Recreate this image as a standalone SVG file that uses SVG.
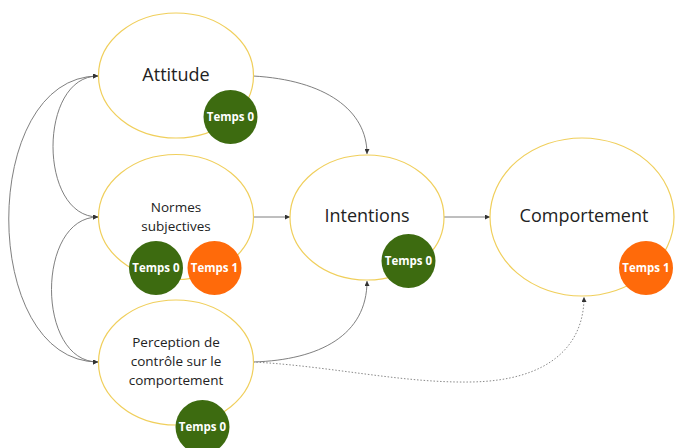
<svg xmlns="http://www.w3.org/2000/svg" width="675" height="448" viewBox="0 0 675 448">
  <style>
    .node { fill: #ffffff; stroke: #f0cf5c; stroke-width: 1.2; }
    .label { font-family: "Open Sans", "Liberation Sans", sans-serif; fill: #222222; text-anchor: middle; }
    .big { font-size: 18px; }
    .small { font-size: 13.5px; }
    .badge-text { font-family: "Open Sans", "Liberation Sans", sans-serif; font-weight: bold; font-size: 11.5px; fill: #ffffff; text-anchor: middle; }
    .t0 { fill: #3d6b10; }
    .t1 { fill: #ff6a0a; }
    .link { fill: none; stroke: #707070; stroke-width: 0.9; }
    .dotted { fill: none; stroke: #8a8a8a; stroke-width: 1; stroke-dasharray: 1.5 1.8; }
  </style>
  <defs>
    <marker id="arrow" viewBox="0 0 10 10" refX="10" refY="5" markerWidth="6" markerHeight="5" markerUnits="userSpaceOnUse" orient="auto-start-reverse">
      <path d="M0,0 L10,5 L0,10 z" fill="#333333"/>
    </marker>
  </defs>

  <rect width="675" height="448" fill="#ffffff"/>

  <!-- connectors -->
  <g id="connectors">
    <!-- mutual links on the left -->
    <path class="link" d="M98,76 C38,76 38,217 98,217" marker-start="url(#arrow)" marker-end="url(#arrow)"/>
    <path class="link" d="M98,217 C36,217 36,362 98,362" marker-start="url(#arrow)" marker-end="url(#arrow)"/>
    <path class="link" d="M98,76 C-21,76 -21,362 98,362" marker-start="url(#arrow)" marker-end="url(#arrow)"/>
    <!-- towards Intentions -->
    <path class="link" d="M253,76 C325,80 367,110 367,154" marker-end="url(#arrow)"/>
    <path class="link" d="M253,217 L290,217" marker-end="url(#arrow)"/>
    <path class="link" d="M253,362 C320,360 367,335 367,281" marker-end="url(#arrow)"/>
    <!-- towards Comportement -->
    <path class="link" d="M444,217 L490,217" marker-end="url(#arrow)"/>
    <path class="dotted" d="M253,362 C330,366 400,383 470,382 C550,381 584,345 584,297" marker-end="url(#arrow)"/>
  </g>

  <g id="attitude">
    <ellipse class="node" cx="176" cy="75.5" rx="77.5" ry="62.5"/>
    <text class="label big" x="176" y="81">Attitude</text>
    <circle class="t0" cx="230.5" cy="117" r="27"/>
    <text class="badge-text" x="230.5" y="121">Temps 0</text>
  </g>

  <g id="normes">
    <ellipse class="node" cx="176" cy="217" rx="77.5" ry="62.5"/>
    <text class="label small" x="176" y="212">Normes</text>
    <text class="label small" x="176" y="231">subjectives</text>
    <circle class="t0" cx="156" cy="268" r="27"/>
    <text class="badge-text" x="156" y="272">Temps 0</text>
    <circle class="t1" cx="214.5" cy="268" r="27"/>
    <text class="badge-text" x="214.5" y="272">Temps 1</text>
  </g>

  <g id="perception">
    <ellipse class="node" cx="176" cy="362.5" rx="77.5" ry="62.5"/>
    <text class="label small" x="176" y="347">Perception de</text>
    <text class="label small" x="176" y="366">contrôle sur le</text>
    <text class="label small" x="176" y="384.5">comportement</text>
    <circle class="t0" cx="202.5" cy="427" r="27"/>
    <text class="badge-text" x="202.5" y="431">Temps 0</text>
  </g>

  <g id="intentions">
    <ellipse class="node" cx="367" cy="217.5" rx="77" ry="62.5"/>
    <text class="label big" x="367" y="222">Intentions</text>
    <circle class="t0" cx="408.5" cy="261" r="27"/>
    <text class="badge-text" x="408.5" y="265">Temps 0</text>
  </g>

  <g id="comportement">
    <ellipse class="node" cx="582" cy="217" rx="92" ry="79"/>
    <text class="label big" x="584" y="222">Comportement</text>
    <circle class="t1" cx="646" cy="268" r="27"/>
    <text class="badge-text" x="646" y="272">Temps 1</text>
  </g>
</svg>
